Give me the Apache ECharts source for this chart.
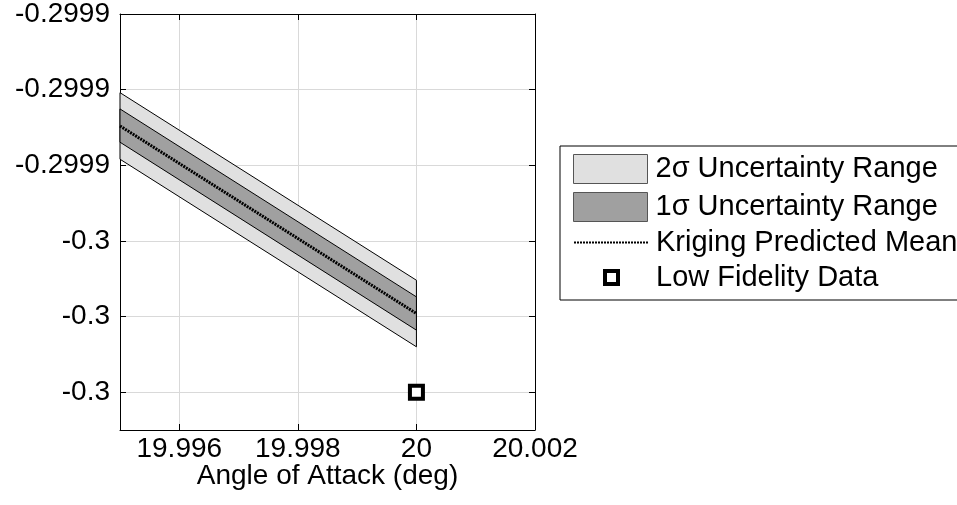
<!DOCTYPE html>
<html><head><meta charset="utf-8">
<script src="https://cdn.jsdelivr.net/npm/echarts@6/dist/echarts.min.js"></script>
<style>html,body{margin:0;padding:0;background:#fff}#c{width:957px;height:505px}</style>
</head><body><div id="c"></div>
<script>
// ---- data ----
const xTicks = [19.996, 19.998, 20.000, 20.002];
const xTickLabels = ['19.996', '19.998', '20', '20.002'];
const yTicks = [-0.30000, -0.29998, -0.29996, -0.29994, -0.29992, -0.29990];
const yTickLabels = ['-0.3', '-0.3', '-0.3', '-0.2999', '-0.2999', '-0.2999'];
const xRange = [19.995, 20.002];
const yRange = [-0.30001, -0.29990];
const aoa = [19.995, 20.000];
const upper2 = [-0.2999208, -0.2999704];
const upper1 = [-0.2999251, -0.2999748];
const mean = [-0.2999296, -0.2999792];
const lower1 = [-0.2999339, -0.2999836];
const lower2 = [-0.2999384, -0.2999880];
const lowFidX = [20.000];
const lowFidY = [-0.30000];
const names = ['2σ Uncertainty Range', '1σ Uncertainty Range', 'Kriging Predicted Mean', 'Low Fidelity Data'];

const FONT = "'Liberation Sans', Arial, Helvetica, sans-serif";
const FS = 28;
const fill2 = '#e0e0e0', fill1 = '#a0a0a0';

function pick(ticks, labels) {
  return v => { const i = ticks.findIndex(t => Math.abs(t - v) < 1e-9); return i < 0 ? '' : labels[i]; };
}

function band(name, up, lo, fill, z) {
  return {
    type: 'custom', name, coordinateSystem: 'cartesian2d', z,
    itemStyle: { color: fill },
    data: aoa.map((x, i) => [x, up[i], lo[i]]),
    encode: { x: 0, y: [1, 2] },
    renderItem(params, api) {
      if (params.dataIndex !== 0) return;
      const pts = [];
      for (let i = 0; i < aoa.length; i++) pts.push(api.coord([aoa[i], up[i]]));
      for (let i = aoa.length - 1; i >= 0; i--) pts.push(api.coord([aoa[i], lo[i]]));
      return { type: 'polygon', shape: { points: pts }, style: { fill, stroke: '#000', lineWidth: 1 } };
    }
  };
}

const axisLine = { show: true, onZero: false, lineStyle: { color: '#000', width: 1 } };
const tickStyle = { color: '#000', width: 1 };
const txt = { fontFamily: FONT, fontSize: FS, color: '#000' };
const ltxt = { fontFamily: FONT, fontSize: 29, color: '#000', padding: [4, 0, 0, 3] };

const chart = echarts.init(document.getElementById('c'), null, { renderer: 'canvas' });
chart.setOption({
  animation: false,
  backgroundColor: '#fff',
  grid: { left: 120, right: 422, top: 14, bottom: 75, containLabel: false },
  xAxis: [{
    type: 'value', position: 'bottom', min: xRange[0], max: xRange[1],
    axisLine, axisTick: { show: true, inside: true, length: 6, customValues: xTicks, lineStyle: tickStyle },
    axisLabel: Object.assign({ customValues: xTicks, formatter: pick(xTicks, xTickLabels), margin: 5 }, txt),
    splitLine: { show: true, lineStyle: { color: '#d9d9d9', width: 1 } },
    name: 'Angle of Attack (deg)', nameLocation: 'middle', nameGap: 32, nameMoveOverlap: false, nameTextStyle: txt
  }, {
    type: 'value', position: 'top', min: xRange[0], max: xRange[1],
    axisLine, axisTick: { show: true, inside: true, length: 6, customValues: xTicks, lineStyle: tickStyle },
    axisLabel: { show: false }, splitLine: { show: false }
  }],
  yAxis: [{
    type: 'value', position: 'left', min: yRange[0], max: yRange[1],
    axisLine, axisTick: { show: true, inside: true, length: 6, customValues: yTicks, lineStyle: tickStyle },
    axisLabel: Object.assign({ customValues: yTicks, formatter: pick(yTicks, yTickLabels), margin: 10 }, txt),
    splitLine: { show: true, lineStyle: { color: '#d9d9d9', width: 1 } }
  }, {
    type: 'value', position: 'right', min: yRange[0], max: yRange[1],
    axisLine, axisTick: { show: true, inside: true, length: 6, customValues: yTicks, lineStyle: tickStyle },
    axisLabel: { show: false }, splitLine: { show: false }
  }],
  legend: [{
    data: [
      { name: names[0], icon: 'rect', itemStyle: { color: fill2, borderColor: '#555', borderWidth: 1 } },
      { name: names[1], icon: 'rect', itemStyle: { color: fill1, borderColor: '#555', borderWidth: 1 } }
    ],
    orient: 'vertical', left: 560, top: 146, itemWidth: 74, itemHeight: 29, itemGap: 8,
    padding: [8, 40, 78, 13], borderColor: '#000', borderWidth: 1, backgroundColor: '#fff',
    textStyle: ltxt, selectedMode: false, z: 5
  }, {
    data: [{ name: names[2] }],
    left: 573, top: 228, itemWidth: 74, itemHeight: 1, padding: 0,
    textStyle: ltxt, selectedMode: false, z: 6
  }, {
    data: [{ name: names[3], icon: 'rect', itemStyle: { color: '#fff', borderColor: '#000', borderWidth: 4 } }],
    left: 603, top: 263, itemWidth: 13, itemHeight: 13, padding: 0,
    textStyle: Object.assign({}, ltxt, { padding: [4, 0, 0, 33] }), selectedMode: false, z: 6
  }],
  series: [
    band(names[0], upper2, lower2, fill2, 2),
    band(names[1], upper1, lower1, fill1, 3),
    {
      type: 'line', name: names[2], z: 4, symbol: 'none',
      data: aoa.map((x, i) => [x, mean[i]]),
      lineStyle: { color: '#000', width: 3, type: [2, 1] }, itemStyle: { color: '#000' }
    },
    {
      type: 'scatter', name: names[3], z: 5, symbol: 'rect', symbolSize: 13,
      data: lowFidX.map((x, i) => [x, lowFidY[i]]),
      itemStyle: { color: '#fff', borderColor: '#000', borderWidth: 4, opacity: 1 }
    }
  ]
});
</script></body></html>
